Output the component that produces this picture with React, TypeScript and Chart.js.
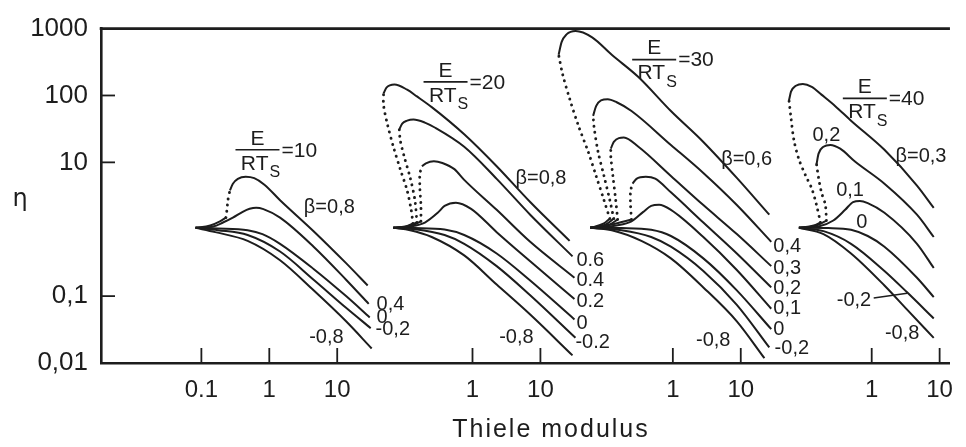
import React, { useEffect, useRef } from "react";
import { Chart, registerables } from "chart.js";

Chart.register(...registerables);

// ---------- axes ----------
// each panel is its own log10(phi) axis, placed along one shared x axis
const PANEL_OFFSET = [2.478, 5.47, 8.42, 11.348];
const X_TICK_PANEL = [0, 0, 0, 1, 1, 2, 2, 3, 3];
const X_TICK_PHI = [0.1, 1, 10, 1, 10, 1, 10, 1, 10];
const X_TICK_LABELS = ["0.1", "1", "10", "1", "10", "1", "10", "1", "10"];
const Y_TICK_VALUES = [0.01, 0.1, 10, 100, 1000];
const Y_TICK_LABELS = ["0,01", "0,1", "10", "100", "1000"];
const X_TITLE = "Thiele modulus";
const Y_TITLE = "η";

// ---------- data: [Thiele modulus, effectiveness factor] ----------
// E/RTs = 10
const g10_b08_lo = [[0.082, 1.05], [0.135, 1.14], [0.188, 1.31], [0.23, 1.49]];
const g10_b08_dot = [[0.23, 1.49], [0.238, 1.95], [0.246, 2.72], [0.263, 3.8]];
const g10_b08_up = [[0.263, 3.8], [0.291, 4.8], [0.344, 5.67], [0.45, 6.1], [0.6, 5.8], [0.847, 4.64], [1.44, 2.72], [4.49, 0.936], [13.5, 0.311], [28.1, 0.144]];
const g10_b04 = [[0.082, 1.05], [0.149, 1.1], [0.208, 1.26], [0.291, 1.49], [0.406, 1.82], [0.513, 2.02], [0.64, 2.1], [0.82, 2.0], [1.44, 1.49], [4.49, 0.548], [13.5, 0.176], [29.1, 0.0766]];
const g10_b0 = [[0.082, 1.05], [0.176, 1.03], [0.48, 0.967], [0.792, 0.846], [1.44, 0.606], [4.49, 0.255], [13.5, 0.1], [30.1, 0.048]];
const g10_bm02 = [[0.082, 1.05], [0.176, 0.967], [0.48, 0.819], [1.44, 0.464], [4.49, 0.176], [13.5, 0.067], [31.1, 0.0332]];
const g10_bm08 = [[0.082, 1.05], [0.16, 0.905], [0.48, 0.67], [1.44, 0.344], [4.49, 0.122], [13.5, 0.042], [32.2, 0.0165]];

// E/RTs = 20
const g20_b08_lo = [[0.0684, 1.05], [0.102, 1.1], [0.133, 1.22]];
const g20_b08_dot = [[0.133, 1.22], [0.125, 1.95], [0.109, 3.8], [0.0863, 7.92], [0.0684, 17.1], [0.056, 36.7], [0.049, 71.6], [0.049, 107]];
const g20_b08_up = [[0.049, 107], [0.0541, 131], [0.071, 146], [0.109, 122], [0.152, 96.8], [0.251, 67.0], [0.755, 26.3], [2.27, 8.75], [7.07, 2.55], [26.9, 0.67]];
const g20_b06_lo = [[0.0684, 1.05], [0.109, 1.1], [0.152, 1.26]];
const g20_b06_dot = [[0.152, 1.26], [0.142, 2.72], [0.121, 5.86], [0.0987, 12.2], [0.0863, 21.5], [0.0835, 31.1]];
const g20_b06_up = [[0.0835, 31.1], [0.0923, 38.0], [0.109, 42.0], [0.135, 43.6], [0.199, 39.3], [0.278, 33.2], [0.755, 17.1], [2.27, 5.67], [7.07, 1.65], [29.7, 0.393]];
const g20_b04_lo = [[0.0684, 1.05], [0.117, 1.1], [0.174, 1.31]];
const g20_b04_dot = [[0.174, 1.31], [0.174, 2.3], [0.168, 4.06], [0.168, 6.7], [0.18, 8.75]];
const g20_b04_up = [[0.18, 8.75], [0.206, 9.68], [0.27, 10.4], [0.36, 9.8], [0.541, 7.92], [0.755, 5.48], [2.27, 1.95], [7.07, 0.648], [31.7, 0.188]];
const g20_b02 = [[0.0684, 1.05], [0.121, 1.1], [0.199, 1.26], [0.307, 1.76], [0.388, 2.23], [0.57, 2.5], [0.954, 2.02], [2.27, 0.905], [7.07, 0.332], [31.7, 0.0905]];
const g20_b0 = [[0.0684, 1.05], [0.142, 1.04], [0.388, 0.99], [0.755, 0.819], [2.27, 0.434], [7.07, 0.171], [31.7, 0.0449]];
const g20_bm02 = [[0.0684, 1.05], [0.142, 1.0], [0.388, 0.819], [0.755, 0.606], [2.27, 0.281], [7.07, 0.103], [32.8, 0.0238]];
const g20_bm08 = [[0.0684, 1.05], [0.121, 0.967], [0.251, 0.766], [0.755, 0.406], [2.27, 0.149], [7.07, 0.053], [29.7, 0.013]];

// E/RTs = 30
const g30_b06_lo = [[0.0606, 1.05], [0.0968, 1.22], [0.118, 1.44]];
const g30_b06_dot = [[0.118, 1.44], [0.0968, 2.72], [0.0741, 6.27], [0.0567, 14.4], [0.0406, 35.5], [0.0301, 90.5], [0.0238, 208], [0.0208, 406]];
const g30_b06_up = [[0.0208, 406], [0.023, 627], [0.0272, 819], [0.037, 920], [0.0648, 741], [0.126, 406], [0.311, 189], [0.936, 58.6], [2.81, 20.2], [8.75, 5.86], [26.3, 1.65]];
const g30_b04_lo = [[0.0606, 1.05], [0.103, 1.18], [0.135, 1.44]];
const g30_b04_dot = [[0.135, 1.44], [0.118, 2.72], [0.0968, 6.27], [0.0792, 14.4], [0.0693, 33.2], [0.067, 49.6]];
const g30_b04_up = [[0.067, 49.6], [0.0741, 69.3], [0.0875, 84.7], [0.11, 88.0], [0.149, 79.2], [0.246, 58.6], [0.936, 18.2], [2.81, 6.93], [8.75, 2.3], [28.1, 0.648]];
const g30_b03_lo = [[0.0606, 1.05], [0.118, 1.18], [0.154, 1.4]];
const g30_b03_dot = [[0.154, 1.4], [0.144, 2.72], [0.131, 6.27], [0.122, 12.2], [0.122, 16.0]];
const g30_b03_up = [[0.122, 16.0], [0.135, 20.2], [0.19, 23.5], [0.311, 17.1], [0.936, 6.27], [2.81, 2.3], [8.75, 0.846], [28.1, 0.281]];
const g30_b02_lo = [[0.0606, 1.05], [0.126, 1.18], [0.246, 1.4]];
const g30_b02_dot = [[0.246, 1.4], [0.238, 2.3], [0.238, 3.67], [0.255, 4.8]];
const g30_b02_up = [[0.255, 4.8], [0.291, 5.67], [0.4, 6.1], [0.55, 5.7], [0.936, 3.56], [2.81, 1.26], [8.75, 0.434], [28.1, 0.135]];
const g30_b01 = [[0.0606, 1.05], [0.149, 1.14], [0.246, 1.31], [0.367, 1.82], [0.48, 2.23], [0.627, 2.32], [0.936, 1.95], [2.81, 0.766], [8.75, 0.246], [28.1, 0.0648]];
const g30_b0 = [[0.0606, 1.05], [0.176, 1.04], [0.48, 0.98], [0.936, 0.792], [2.81, 0.367], [8.75, 0.122], [28.1, 0.0321]];
const g30_bm02 = [[0.0606, 1.05], [0.176, 0.967], [0.48, 0.766], [0.936, 0.548], [2.81, 0.238], [8.75, 0.0741], [26.3, 0.0171]];
const g30_bm08 = [[0.0606, 1.05], [0.126, 0.967], [0.344, 0.67], [0.936, 0.367], [2.81, 0.135], [8.75, 0.042], [22.3, 0.0118]];

// E/RTs = 40
const g40_b03_lo = [[0.0847, 1.05], [0.14, 1.14], [0.176, 1.26]];
const g40_b03_dot = [[0.176, 1.26], [0.154, 2.3], [0.131, 4.06], [0.107, 6.27], [0.0847, 11.1], [0.0716, 21.5], [0.0648, 46.4], [0.0606, 84.7]];
const g40_b03_up = [[0.0606, 84.7], [0.0648, 114], [0.0766, 140], [0.0968, 149], [0.131, 135], [0.182, 103], [0.291, 69.3], [0.496, 42.0], [1.54, 15.4], [4.64, 4.49], [8.19, 2.08]];
const g40_b02_lo = [[0.0847, 1.05], [0.154, 1.14], [0.215, 1.35]];
const g40_b02_dot = [[0.215, 1.35], [0.208, 2.3], [0.182, 3.56], [0.165, 5.86], [0.154, 9.35]];
const g40_b02_up = [[0.154, 9.35], [0.165, 13.5], [0.195, 17.1], [0.246, 18.2], [0.344, 16.0], [0.567, 10.3], [1.54, 4.8], [4.64, 1.65], [8.19, 0.766]];
const g40_b01 = [[0.0847, 1.05], [0.165, 1.1], [0.272, 1.35], [0.406, 1.95], [0.531, 2.55], [0.67, 2.65], [0.875, 2.46], [1.54, 1.76], [4.64, 0.606], [8.19, 0.263]];
const g40_b0 = [[0.0847, 1.05], [0.23, 1.04], [0.496, 0.98], [0.875, 0.792], [1.54, 0.548], [4.64, 0.188], [8.19, 0.0968]];
const g40_bm02 = [[0.0847, 1.05], [0.195, 0.936], [0.496, 0.606], [1.54, 0.238], [3.32, 0.114], [8.19, 0.0464]];
const g40_bm08 = [[0.0847, 1.05], [0.195, 0.846], [0.496, 0.434], [1.54, 0.144], [3.32, 0.0627], [8.19, 0.0238]];

// which panel each curve piece belongs to, and whether it is the dotted (unstable) branch
const SEGMENTS: { panel: number; pts: number[][]; dotted: boolean }[] = [
  { panel: 0, pts: g10_b08_lo, dotted: false },
  { panel: 0, pts: g10_b08_dot, dotted: true },
  { panel: 0, pts: g10_b08_up, dotted: false },
  { panel: 0, pts: g10_b04, dotted: false },
  { panel: 0, pts: g10_b0, dotted: false },
  { panel: 0, pts: g10_bm02, dotted: false },
  { panel: 0, pts: g10_bm08, dotted: false },
  { panel: 1, pts: g20_b08_lo, dotted: false },
  { panel: 1, pts: g20_b08_dot, dotted: true },
  { panel: 1, pts: g20_b08_up, dotted: false },
  { panel: 1, pts: g20_b06_lo, dotted: false },
  { panel: 1, pts: g20_b06_dot, dotted: true },
  { panel: 1, pts: g20_b06_up, dotted: false },
  { panel: 1, pts: g20_b04_lo, dotted: false },
  { panel: 1, pts: g20_b04_dot, dotted: true },
  { panel: 1, pts: g20_b04_up, dotted: false },
  { panel: 1, pts: g20_b02, dotted: false },
  { panel: 1, pts: g20_b0, dotted: false },
  { panel: 1, pts: g20_bm02, dotted: false },
  { panel: 1, pts: g20_bm08, dotted: false },
  { panel: 2, pts: g30_b06_lo, dotted: false },
  { panel: 2, pts: g30_b06_dot, dotted: true },
  { panel: 2, pts: g30_b06_up, dotted: false },
  { panel: 2, pts: g30_b04_lo, dotted: false },
  { panel: 2, pts: g30_b04_dot, dotted: true },
  { panel: 2, pts: g30_b04_up, dotted: false },
  { panel: 2, pts: g30_b03_lo, dotted: false },
  { panel: 2, pts: g30_b03_dot, dotted: true },
  { panel: 2, pts: g30_b03_up, dotted: false },
  { panel: 2, pts: g30_b02_lo, dotted: false },
  { panel: 2, pts: g30_b02_dot, dotted: true },
  { panel: 2, pts: g30_b02_up, dotted: false },
  { panel: 2, pts: g30_b01, dotted: false },
  { panel: 2, pts: g30_b0, dotted: false },
  { panel: 2, pts: g30_bm02, dotted: false },
  { panel: 2, pts: g30_bm08, dotted: false },
  { panel: 3, pts: g40_b03_lo, dotted: false },
  { panel: 3, pts: g40_b03_dot, dotted: true },
  { panel: 3, pts: g40_b03_up, dotted: false },
  { panel: 3, pts: g40_b02_lo, dotted: false },
  { panel: 3, pts: g40_b02_dot, dotted: true },
  { panel: 3, pts: g40_b02_up, dotted: false },
  { panel: 3, pts: g40_b01, dotted: false },
  { panel: 3, pts: g40_b0, dotted: false },
  { panel: 3, pts: g40_bm02, dotted: false },
  { panel: 3, pts: g40_bm08, dotted: false },
];

// ---------- annotations ----------
const FRACTION_GAMMA = [10, 20, 30, 40];
const FRACTION_PHI = [0.67, 0.401, 0.531, 0.792];
const FRACTION_ETA = [15.4, 160, 344, 90.5];

const NOTE_TEXT = ["β=0,8", "0,4", "0", "-0,2", "-0,8",
  "β=0,8", "0.6", "0.4", "0.2", "0", "-0.2", "-0,8",
  "β=0,6", "0,4", "0,3", "0,2", "0,1", "0", "-0,2", "-0,8",
  "0,2", "β=0,3", "0,1", "0", "-0,2", "-0,8"];
const NOTE_PANEL = [0, 0, 0, 0, 0, 1, 1, 1, 1, 1, 1, 1, 2, 2, 2, 2, 2, 2, 2, 2, 3, 3, 3, 3, 3, 3];
const NOTE_PHI = [7.66, 38.0, 38.0, 36.7, 6.93,
  10.2, 33.9, 33.9, 33.9, 33.9, 32.8, 4.43,
  12.2, 30.1, 30.1, 30.1, 30.1, 30.1, 31.5, 3.93,
  0.215, 5.31, 0.48, 0.716, 0.548, 2.81];
const NOTE_ETA = [2.08, 0.0741, 0.048, 0.0321, 0.0238,
  5.67, 0.344, 0.171, 0.0818, 0.0393, 0.0201, 0.0238,
  11.1, 0.548, 0.263, 0.131, 0.0648, 0.0321, 0.0165, 0.0215,
  25.5, 12.2, 3.8, 1.26, 0.0875, 0.0272];
const NOTE_ALIGN = ["center", "left", "left", "left", "center",
  "center", "left", "left", "left", "left", "left", "center",
  "center", "left", "left", "left", "left", "left", "left", "center",
  "center", "center", "center", "center", "center", "center"];
// leader line from the "-0,2" label to its curve (panel 4)
const LEADER_PHI = [1.07, 3.32];
const LEADER_ETA = [0.0935, 0.11];

const INK = "#1d1d1d";
const FONT = '"Liberation Sans", Arial, sans-serif';

const toX = (panel: number, phi: number) => PANEL_OFFSET[panel] + Math.log10(phi);

const overlay = {
  id: "overlay",
  afterDraw(chart: any) {
    const { ctx, chartArea, scales } = chart;
    const xs = scales.x;
    const ys = scales.y;
    const line = (x1: number, y1: number, x2: number, y2: number) => {
      ctx.beginPath();
      ctx.moveTo(x1, y1);
      ctx.lineTo(x2, y2);
      ctx.stroke();
    };
    ctx.save();
    ctx.strokeStyle = INK;
    ctx.fillStyle = INK;
    ctx.lineCap = "butt";

    // top frame line
    ctx.lineWidth = 2.6;
    line(chartArea.left - 1.3, chartArea.top, chartArea.right, chartArea.top);

    // inward tick marks
    ctx.lineWidth = 1.8;
    Y_TICK_VALUES.slice(1, -1).forEach((v) => {
      const y = ys.getPixelForValue(v);
      line(chartArea.left, y, chartArea.left + 14, y);
    });
    xs.ticks.forEach((t: any) => {
      const x = xs.getPixelForValue(t.value);
      line(x, chartArea.bottom, x, chartArea.bottom - 15);
    });

    // curve labels
    ctx.textBaseline = "middle";
    ctx.font = `20px ${FONT}`;
    NOTE_TEXT.forEach((txt, i) => {
      ctx.textAlign = NOTE_ALIGN[i] as CanvasTextAlign;
      ctx.fillText(txt, xs.getPixelForValue(toX(NOTE_PANEL[i], NOTE_PHI[i])), ys.getPixelForValue(NOTE_ETA[i]));
    });
    ctx.lineWidth = 1.5;
    line(
      xs.getPixelForValue(toX(3, LEADER_PHI[0])), ys.getPixelForValue(LEADER_ETA[0]),
      xs.getPixelForValue(toX(3, LEADER_PHI[1])), ys.getPixelForValue(LEADER_ETA[1])
    );

    // E / RTs = gamma
    FRACTION_GAMMA.forEach((g, i) => {
      const cx = xs.getPixelForValue(toX(i, FRACTION_PHI[i]));
      const cy = ys.getPixelForValue(FRACTION_ETA[i]);
      ctx.lineWidth = 1.6;
      line(cx - 22, cy, cx + 22, cy);
      ctx.font = `21px ${FONT}`;
      ctx.textAlign = "center";
      ctx.fillText("E", cx, cy - 11);
      ctx.textAlign = "right";
      ctx.fillText("RT", cx + 11, cy + 14);
      ctx.font = `16px ${FONT}`;
      ctx.textAlign = "left";
      ctx.fillText("S", cx + 12, cy + 23);
      ctx.font = `21px ${FONT}`;
      ctx.fillText("=" + g, cx + 24, cy + 1);
    });

    // axis titles
    ctx.textAlign = "center";
    ctx.font = `24px "DejaVu Sans", sans-serif`;
    ctx.fillText(Y_TITLE, 20, 200);
    ctx.font = `25px ${FONT}`;
    (ctx as any).letterSpacing = "2px";
    ctx.fillText(X_TITLE, 551, 430);
    (ctx as any).letterSpacing = "0px";
    ctx.restore();
  },
};

export default function App() {
  const ref = useRef<HTMLCanvasElement>(null);
  useEffect(() => {
    const datasets = SEGMENTS.map((s) => ({
      data: s.pts.map(([phi, eta]) => ({ x: toX(s.panel, phi), y: eta })),
      showLine: true,
      borderColor: INK,
      borderWidth: s.dotted ? 2.9 : 2,
      borderDash: s.dotted ? [0.1, 6.2] : [],
      borderCapStyle: s.dotted ? "round" : "butt",
      borderJoinStyle: "round",
      pointRadius: 0,
      pointHoverRadius: 0,
      tension: s.dotted ? 0.3 : 0,
      cubicInterpolationMode: s.dotted ? "default" : "monotone",
      fill: false,
    }));
    const chart = new Chart(ref.current as HTMLCanvasElement, {
      type: "scatter",
      data: { datasets: datasets as any },
      options: {
        responsive: false,
        animation: false,
        events: [],
        layout: { autoPadding: false, padding: { top: 18, right: 2.5, left: 0, bottom: 0 } } as any,
        plugins: { legend: { display: false }, tooltip: { enabled: false } },
        scales: {
          x: {
            type: "linear",
            min: 0,
            max: 12.5,
            afterBuildTicks: (scale: any) => {
              scale.ticks = X_TICK_PHI.map((p, i) => ({ value: toX(X_TICK_PANEL[i], p) }));
            },
            afterFit: (scale: any) => {
              scale.height = 84;
            },
            ticks: {
              autoSkip: false,
              maxRotation: 0,
              padding: 13,
              color: INK,
              font: { family: FONT, size: 24 },
              callback: (_v: any, i: number) => X_TICK_LABELS[i],
            },
            grid: { display: true, drawOnChartArea: false, drawTicks: false },
            border: { display: true, color: INK, width: 2.6 },
          },
          y: {
            type: "logarithmic",
            min: 0.01,
            max: 1000,
            afterBuildTicks: (scale: any) => {
              scale.ticks = Y_TICK_VALUES.map((v) => ({ value: v }));
            },
            afterFit: (scale: any) => {
              scale.width = 101;
            },
            ticks: {
              autoSkip: false,
              padding: 13,
              color: INK,
              font: { family: FONT, size: 26 },
              callback: (_v: any, i: number) => Y_TICK_LABELS[i],
            },
            grid: { display: true, drawOnChartArea: false, drawTicks: false },
            border: { display: true, color: INK, width: 2.6 },
          },
        },
      } as any,
      plugins: [overlay],
    });
    return () => chart.destroy();
  }, []);
  return (
    <div style={{ position: "fixed", left: 0, top: 0, width: 966, height: 447, background: "#fff" }}>
      <canvas ref={ref} width={966} height={447} style={{ display: "block" }} />
    </div>
  );
}
